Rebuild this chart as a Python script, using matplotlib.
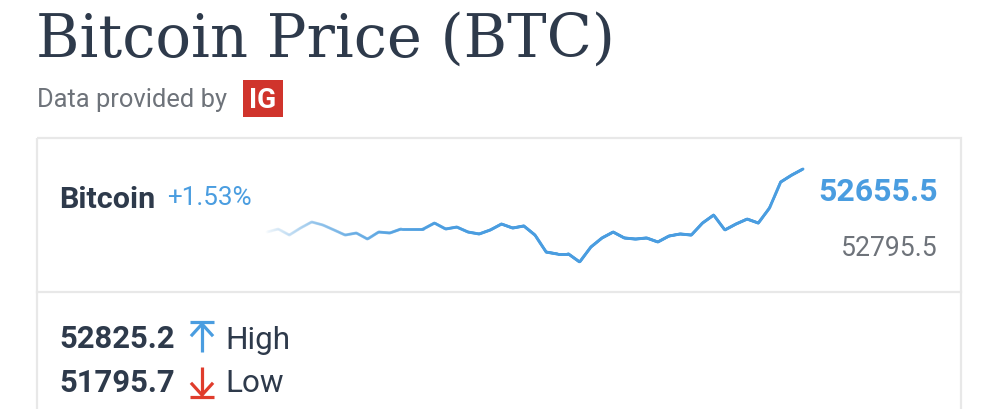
import numpy as np
import matplotlib
matplotlib.use("Agg")
import matplotlib.pyplot as plt
from matplotlib.collections import LineCollection
from matplotlib.patches import Rectangle

# sparkline prices
prices = [52073, 52101, 52045, 52110, 52166, 52138, 52092, 52045, 52064, 52008,
          52073, 52064, 52101, 52101, 52101, 52156, 52101, 52119, 52073, 52055,
          52092, 52147, 52110, 52129, 52045, 51888, 51870, 51870, 51796, 51934,
          52018, 52073, 52018, 52008, 52018, 51981, 52036, 52055, 52045, 52156,
          52230, 52092, 52147, 52193, 52156, 52295, 52535, 52600, 52655.5]
name = "Bitcoin"
change = "+1.53%"
sell_price = "52655.5"
buy_price = "52795.5"
high = "52825.2"
low = "51795.7"

navy = "#2e3a4b"
blue = "#4a9de0"
red = "#e03c2c"
grey = "#6e737a"
border = "#e8e8e8"

fig = plt.figure(figsize=(10, 4.1), dpi=100)
fig.patch.set_facecolor("white")

# overlay axes in pixel coordinates
ov = fig.add_axes([0, 0, 1, 1])
ov.set_xlim(0, 1000)
ov.set_ylim(410, 0)
ov.axis("off")

def px(p):
    return p * 0.72

# title and source line
ov.text(36, 57, "Bitcoin Price (BTC)", family="DejaVu Serif", fontsize=px(59.2),
        color=navy, va="baseline")
ov.text(37, 107, "Data provided by", family="Roboto", fontsize=px(25.5),
        color=grey, va="baseline")
ov.add_patch(Rectangle((243, 81), 40, 37, color="#d0342c", lw=0))
ov.text(263, 100, "IG", family="Roboto", fontweight="bold", fontsize=px(28),
        color="white", ha="center", va="center")

# panel borders
ov.add_patch(Rectangle((37, 139), 924, 300, fill=False, ec=border, lw=1.6))
ov.plot([37, 961], [293, 293], color=border, lw=1.6)

# top row texts
ov.text(59, 208, name, family="Roboto", fontweight="bold", fontsize=px(30.5),
        color=navy, va="baseline")
ov.text(167, 205, change, family="Roboto", fontsize=px(26), color=blue, va="baseline")
ov.text(938, 201, sell_price, family="Roboto", fontweight="bold", fontsize=px(32),
        color=blue, ha="right", va="baseline")
ov.text(938, 256, buy_price, family="Roboto", fontsize=px(26.5), color=grey,
        ha="right", va="baseline")

# high / low rows
ov.text(59, 348, high, family="Roboto", fontweight="bold", fontsize=px(31),
        color=navy, va="baseline")
ov.text(59, 392, low, family="Roboto", fontweight="bold", fontsize=px(31),
        color=navy, va="baseline")
ov.text(225, 349, "High", family="Roboto", fontsize=px(31.5), color=navy, va="baseline")
ov.text(225, 392, "Low", family="Roboto", fontsize=px(31.5), color=navy, va="baseline")

# up arrow (blue) and down arrow (red)
aw = 2.3
ov.plot([190, 214], [323, 323], color=blue, lw=aw, solid_capstyle="butt")
ov.plot([202, 202], [325, 353], color=blue, lw=aw, solid_capstyle="butt")
ov.plot([192, 202, 212], [336, 325, 336], color=blue, lw=aw)
ov.plot([190, 214], [398, 398], color=red, lw=aw, solid_capstyle="butt")
ov.plot([202, 202], [368, 396], color=red, lw=aw, solid_capstyle="butt")
ov.plot([192, 202, 212], [385, 396, 385], color=red, lw=aw)

# sparkline axes: x 267..803 px, y 170..263 px
ax = fig.add_axes([267 / 1000, 1 - 263 / 410, (803 - 267) / 1000, (263 - 170) / 410])
ax.axis("off")
x = np.arange(len(prices))
y = np.array(prices, dtype=float)
ax.set_xlim(x[0], x[-1])
ax.set_ylim(y.min(), y.max())

# finer segments so the fade is smooth
xf = np.linspace(x[0], x[-1], 600)
yf = np.interp(xf, x, y)
pts = np.column_stack([xf, yf]).reshape(-1, 1, 2)
segs = np.concatenate([pts[:-1], pts[1:]], axis=1)
t = xf[:-1] / x[-1]
alpha = np.clip(0.02 + t / 0.48, 0, 1)
rgb = matplotlib.colors.to_rgb(blue)
colors = [(rgb[0], rgb[1], rgb[2], a) for a in alpha]
lc = LineCollection(segs, colors=colors, linewidths=2.1, capstyle="round",
                    joinstyle="round", clip_on=False)
ax.add_collection(lc)

fig.savefig("out.png", dpi=100, facecolor="white")
